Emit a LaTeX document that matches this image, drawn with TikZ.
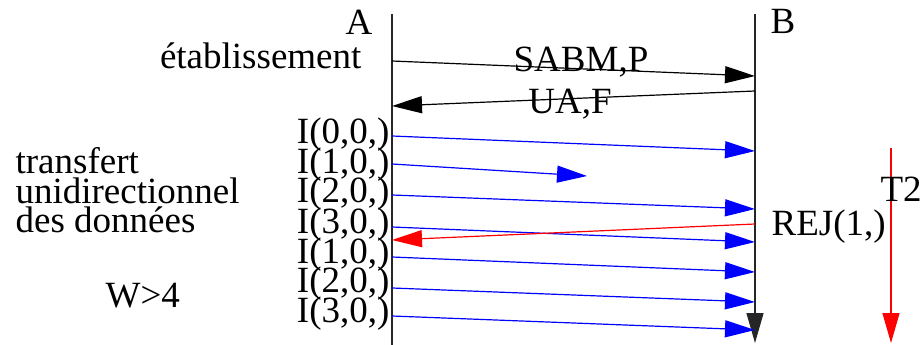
\documentclass[tikz,border=0pt]{standalone}
\usepackage{fontspec}
\setmainfont{Liberation Serif}
\usetikzlibrary{arrows.meta, positioning}

\begin{document}
\begin{tikzpicture}[x=1pt, y=-1pt, line width=1.2pt,
    >={Triangle[length=30pt, width=17pt]},
    font=\fontsize{37}{30}\selectfont]
                \tikzset{
                    txt/.style={inner sep=0pt, anchor=base west},
                    lbl/.style={inner sep=0pt, anchor=base east},
                    frame/.style={->, blue},
                    rej/.style={->, red}
                }
                \useasboundingbox (0,0) rectangle (921,345);

                % lifelines
                \coordinate (a0) at (392,14);
                \coordinate (a1) at (392,345);
                \coordinate (b0) at (755,14);
                \coordinate (b1) at (755,343);
                \draw[line width=1.4pt, black!85] (a0) -- (a1);
                \draw[->, line width=1.4pt, black!85] (b0) -- (b1);

                \node[lbl] (A) at (373,35) {A};
                \node[txt] (B) at (770,34) {B};
                \node[lbl] (etab) at (362,69) {établissement};

                % connexion
                \coordinate (sabm0) at (392,61);
                \coordinate (sabm1) at (755,76);
                \coordinate (ua0) at (755,91);
                \coordinate (ua1) at (392,106);
                \draw[->] (sabm0) -- (sabm1);
                \draw[->] (ua0) -- (ua1);
                \node[inner sep=0pt, anchor=base] (sabm) at (581,72) {SABM,P};
                \node[inner sep=0pt, anchor=base] (ua) at (570,113) {UA,F};

                % trames I
                \node[lbl] (i0) at (390,143) {I(0,0,)};
                \node[lbl] (i1) at (390,173) {I(1,0,)};
                \node[lbl] (i2) at (390,202) {I(2,0,)};
                \node[lbl] (i3) at (390,233) {I(3,0,)};
                \node[lbl] (j1) at (390,263) {I(1,0,)};
                \node[lbl] (j2) at (390,292) {I(2,0,)};
                \node[lbl] (j3) at (390,322) {I(3,0,)};

                \coordinate (i0s) at (392,136);
                \coordinate (i0e) at (755,151);
                \coordinate (i1s) at (392,164);
                \coordinate (i1e) at (587,176);
                \coordinate (i2s) at (392,195);
                \coordinate (i2e) at (755,209);
                \coordinate (i3s) at (392,227);
                \coordinate (i3e) at (755,242);
                \coordinate (j1s) at (392,257);
                \coordinate (j1e) at (755,272);
                \coordinate (j2s) at (392,288);
                \coordinate (j2e) at (755,302);
                \coordinate (j3s) at (392,316);
                \coordinate (j3e) at (755,330);

                \path[frame]
                    (i0s) edge (i0e)
                    (i1s) edge (i1e)
                    (i2s) edge (i2e)
                    (i3s) edge (i3e)
                    (j1s) edge (j1e)
                    (j2s) edge (j2e)
                    (j3s) edge (j3e);

                % rejet
                \coordinate (rej0) at (755,224);
                \coordinate (rej1) at (392,240);
                \draw[rej] (rej0) -- (rej1);
                \node[txt] (rej) at (771,235) {REJ(1,)};

                % temporisation
                \coordinate (t0) at (891,148);
                \coordinate (t1) at (891,343);
                \draw[rej] (t0) -- (t1);
                \node[txt] (T2) at (880,201) {T2};

                % commentaires
                \node[txt] (tr1) at (15,173) {transfert};
                \node[txt] (tr2) at (15,203) {unidirectionnel};
                \node[txt] (tr3) at (15,232) {des données};
                \node[txt] (W) at (105,307) {W>4};

            \end{tikzpicture}
\end{document}
